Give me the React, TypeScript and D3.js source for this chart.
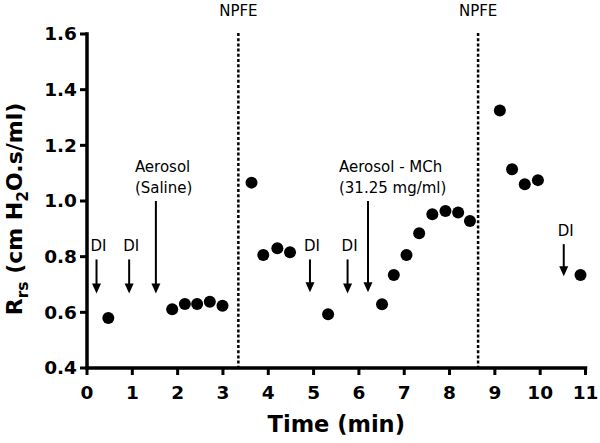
import React from "react";
import * as d3 from "d3";

// ---- data ----
const timeMin = [0.47, 1.88, 2.16, 2.43, 2.71, 2.99, 3.63, 3.89, 4.2, 4.48, 5.32, 6.51, 6.77, 7.05, 7.33, 7.62, 7.91, 8.19, 8.45, 9.11, 9.38, 9.66, 9.95, 10.89];
const rrsValues = [0.58, 0.611, 0.63, 0.63, 0.638, 0.624, 1.066, 0.806, 0.83, 0.816, 0.593, 0.629, 0.734, 0.806, 0.884, 0.952, 0.964, 0.959, 0.928, 1.325, 1.114, 1.06, 1.075, 0.734];

const npfeTimes = [3.34, 8.63];
const npfeLabel = "NPFE";

const arrowTimes = [0.21, 0.93, 1.52, 4.92, 5.75, 6.2, 10.52];
const arrowTops = [0.79, 0.79, 1.0, 0.79, 0.79, 1.0, 0.845];
const arrowTips = [0.668, 0.668, 0.668, 0.672, 0.668, 0.672, 0.73];
const arrowLabels: string[][] = [
  ["DI"],
  ["DI"],
  ["Aerosol", "(Saline)"],
  ["DI"],
  ["DI"],
  ["Aerosol - MCh", "(31.25 mg/ml)"],
  ["DI"],
];

const xTicks = d3.range(0, 12);
const yTicks = [0.4, 0.6, 0.8, 1.0, 1.2, 1.4, 1.6];

const FONT = "'DejaVu Sans', Verdana, sans-serif";

export default function App() {
  const W = 600, H = 443;
  const x = d3.scaleLinear().domain([0, 11]).range([87, 585.5]);
  const y = d3.scaleLinear().domain([0.4, 1.6]).range([368, 34]);
  const fmt = d3.format(".1f");

  const headL = 10, headW = 4.5;

  return (
    <svg width={W} height={H} style={{ position: "absolute", left: 0, top: 0, background: "#fff" }} fontFamily={FONT}>
      <rect x={0} y={0} width={W} height={H} fill="#fff" />
      {/* NPFE dotted lines */}
      {npfeTimes.map((t, i) => (
        <g key={"n" + i}>
          <line x1={x(t)} x2={x(t)} y1={y(1.6) - 1} y2={y(0.4)} stroke="#000" strokeWidth={2.5} strokeDasharray="3 2.2" />
          <text x={x(t)} y={16} textAnchor="middle" fontSize={15}>{npfeLabel}</text>
        </g>
      ))}

      {/* arrows and labels */}
      {arrowTimes.map((t, i) => {
        const ax = x(t);
        const yt = y(arrowTops[i]);
        const yp = y(arrowTips[i]);
        const lines = arrowLabels[i];
        const isDI = lines.length === 1;
        return (
          <g key={"a" + i}>
            <line x1={ax} x2={ax} y1={yt} y2={yp - headL + 1} stroke="#000" strokeWidth={2} />
            <path d={`M${ax - headW},${yp - headL} L${ax + headW},${yp - headL} L${ax},${yp} Z`} fill="#000" />
            {isDI ? (
              <text x={ax + 2} y={yt - 8} textAnchor="middle" fontSize={15}>{lines[0]}</text>
            ) : (
              lines.map((s, j) => (
                <text key={j} x={ax + (i === 2 ? -21 : -29)} y={yt - 29 + j * 20.5} textAnchor="start" fontSize={15}>{s}</text>
              ))
            )}
          </g>
        );
      })}

      {/* data points */}
      {timeMin.map((t, i) => (
        <circle key={"p" + i} cx={x(t)} cy={y(rrsValues[i])} r={6} fill="#000" />
      ))}

      {/* axes */}
      <line x1={x(0)} x2={x(0)} y1={y(1.6)} y2={y(0.4)} stroke="#000" strokeWidth={3.5} strokeLinecap="square" />
      <line x1={x(0)} x2={x(11)} y1={y(0.4)} y2={y(0.4)} stroke="#000" strokeWidth={3.5} strokeLinecap="square" />
      {yTicks.map((v) => (
        <g key={"y" + v}>
          <line x1={x(0) - 7} x2={x(0)} y1={y(v)} y2={y(v)} stroke="#000" strokeWidth={3} />
          <text x={77} y={y(v)} dy="0.35em" textAnchor="end" fontSize={18.5} fontWeight="bold">{fmt(v)}</text>
        </g>
      ))}
      {xTicks.map((v) => (
        <g key={"x" + v}>
          <line x1={x(v)} x2={x(v)} y1={y(0.4)} y2={y(0.4) + 7} stroke="#000" strokeWidth={3} />
          <text x={x(v)} y={399} textAnchor="middle" fontSize={18.5} fontWeight="bold">{v}</text>
        </g>
      ))}

      {/* axis titles */}
      <text x={(x(0) + x(11)) / 2} y={432} textAnchor="middle" fontSize={22.5} fontWeight="bold">Time (min)</text>
      <text transform="translate(22,209) rotate(-90)" textAnchor="middle" fontSize={22} fontWeight="bold">
        R<tspan fontSize={15.5} dy={6}>rs</tspan><tspan dy={-6}> (cm H</tspan><tspan fontSize={15.5} dy={6}>2</tspan><tspan dy={-6}>O.s/ml)</tspan>
      </text>
    </svg>
  );
}
